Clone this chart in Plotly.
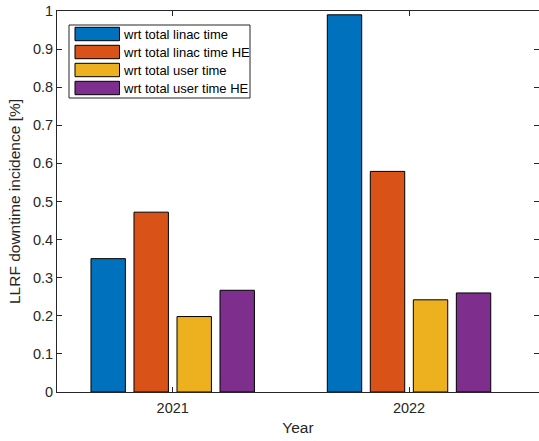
import plotly.graph_objects as go

years = ["2021", "2022"]
series_names = ["wrt total linac time", "wrt total linac time HE",
                "wrt total user time", "wrt total user time HE"]
linac = [0.35, 0.99]
linac_he = [0.472, 0.579]
user = [0.198, 0.242]
user_he = [0.267, 0.260]
colors = ["#0072BD", "#D95319", "#EDB120", "#7E2F8E"]
y_ticks = [0, 0.1, 0.2, 0.3, 0.4, 0.5, 0.6, 0.7, 0.8, 0.9, 1]

FONT = "Liberation Sans, Arial, Helvetica, sans-serif"
AX = "#262626"
W, H = 539, 441
L, R, T, B = 57, 0, 11, 49
PW, PH = W - L - R, H - T - B


def px(x):
    return (x - L) / PW


def py(y):
    return (H - B - y) / PH


fig = go.Figure()
for name, vals, c in zip(series_names, [linac, linac_he, user, user_he], colors):
    fig.add_trace(go.Bar(x=years, y=vals, name=name,
                         marker=dict(color=c, line=dict(color="#000000", width=1))))

# MATLAB-style legend box
shapes = [dict(type="rect", xref="paper", yref="paper",
               x0=px(69), x1=px(250), y0=py(98), y1=py(25),
               line=dict(color=AX, width=1), fillcolor="white", layer="above")]
annotations = []
for i, (name, c) in enumerate(zip(series_names, colors)):
    top = 27.3 + 18 * i
    shapes.append(dict(type="rect", xref="paper", yref="paper",
                       x0=px(75), x1=px(119.5), y0=py(top + 13.4), y1=py(top),
                       line=dict(color="#000000", width=1), fillcolor=c, layer="above"))
    annotations.append(dict(xref="paper", yref="paper", x=px(121), y=py(top + 6.9),
                            xanchor="left", yanchor="middle", text=name, showarrow=False,
                            font=dict(family=FONT, size=13, color="#000000")))

fig.update_layout(
    width=W, height=H,
    margin=dict(l=L, r=R, t=T, b=B, autoexpand=False),
    paper_bgcolor="white", plot_bgcolor="white",
    barmode="group", bargap=0.272, bargroupgap=0.2,
    font=dict(family=FONT, size=14.5, color=AX),
    showlegend=False,
    shapes=shapes, annotations=annotations,
)
fig.update_xaxes(
    type="category", range=[-0.4896, 1.550], automargin=False,
    showline=True, linecolor=AX, linewidth=1, mirror="ticks",
    ticks="inside", ticklen=5, tickcolor=AX, showgrid=False,
    tickfont=dict(size=14.5, color=AX), ticklabelstandoff=3,
    title=dict(text="Year", font=dict(size=15.5, color=AX), standoff=6),
)
fig.update_yaxes(
    range=[0, 1], tickvals=y_ticks, ticktext=[f"{v:g}" for v in y_ticks], automargin=False,
    showline=True, linecolor=AX, linewidth=1, mirror="ticks",
    ticks="inside", ticklen=5, tickcolor=AX, showgrid=False, zeroline=False,
    tickfont=dict(size=14.5, color=AX),
    title=dict(text="LLRF downtime incidence [%]", font=dict(size=15.5, color=AX), standoff=8.5),
)
fig.write_html("out.html", config={"displayModeBar": False},
               post_script="document.body.style.margin='0';document.body.style.overflow='hidden';")
